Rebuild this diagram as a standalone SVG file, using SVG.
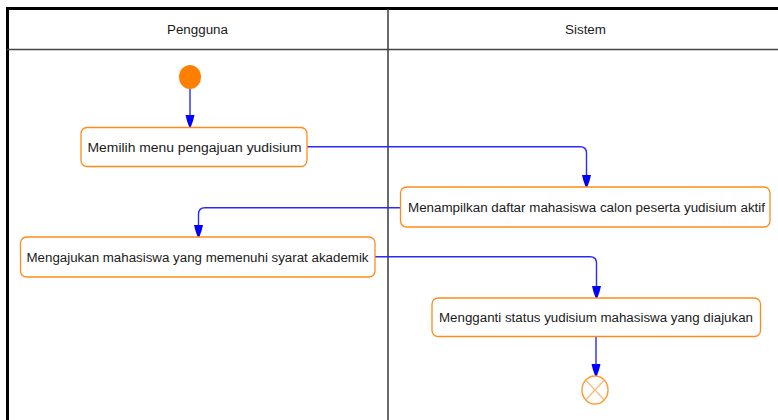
<svg xmlns="http://www.w3.org/2000/svg" width="778" height="420" viewBox="0 0 778 420">
<style>
.lbl{font-family:"Liberation Sans",Arial,sans-serif;font-size:12px;fill:#1a1a1a;text-anchor:middle}
.act{fill:#fff;stroke:#ff8c1a;stroke-width:1.3}
.flow{fill:none;stroke:#2a2aff;stroke-width:1.4}
</style>
<defs>
<marker id="ah" markerUnits="userSpaceOnUse" markerWidth="14" markerHeight="12" viewBox="-13 -6 14 12" refX="0" refY="0" orient="auto">
<path d="M-12,-4.5 L-12,4.5 L-6,3 L0,0.8 L0,-0.8 L-6,-3 Z" fill="#0000ff"/>
</marker>
</defs>
<rect width="778" height="420" fill="#fff"/>
<g id="swimlanes">
<line x1="7.5" y1="8.5" x2="778" y2="8.5" stroke="#000" stroke-width="3"/>
<line x1="7.5" y1="7" x2="7.5" y2="420" stroke="#000" stroke-width="3"/>
<line x1="7" y1="49.5" x2="778" y2="49.5" stroke="#444" stroke-width="1.6"/>
<line x1="388" y1="9" x2="388" y2="420" stroke="#444" stroke-width="1.6"/>
<text class="lbl" x="197.5" y="33.5" textLength="61" lengthAdjust="spacingAndGlyphs">Pengguna</text>
<text class="lbl" x="585.5" y="33.5" textLength="41" lengthAdjust="spacingAndGlyphs">Sistem</text>
</g>
<g id="connectors">
<path class="flow" d="M190,89 V127" marker-end="url(#ah)"/>
<path class="flow" d="M307,146.7 H580 Q586.5,146.7 586.5,153 V187" marker-end="url(#ah)"/>
<path class="flow" d="M400,207.7 H205 Q198.5,207.7 198.5,214 V237" marker-end="url(#ah)"/>
<path class="flow" d="M375,256.7 H590 Q596.5,256.7 596.5,263 V298" marker-end="url(#ah)"/>
<path class="flow" d="M596,337 V376" marker-end="url(#ah)"/>
</g>
<g id="start">
<ellipse cx="190" cy="77" rx="11" ry="12" fill="#ff8000"/>
</g>
<g id="a1">
<rect class="act" x="81" y="127.5" width="226" height="39" rx="6"/>
<text class="lbl" x="194.5" y="151.5" textLength="214" lengthAdjust="spacingAndGlyphs">Memilih menu pengajuan yudisium</text>
</g>
<g id="a2">
<rect class="act" x="400.5" y="187" width="369.5" height="40" rx="6"/>
<text class="lbl" x="586.5" y="212" textLength="357" lengthAdjust="spacingAndGlyphs">Menampilkan daftar mahasiswa calon peserta yudisium aktif</text>
</g>
<g id="a3">
<rect class="act" x="20.5" y="237" width="354.5" height="40" rx="6"/>
<text class="lbl" x="197.5" y="261.5" textLength="342" lengthAdjust="spacingAndGlyphs">Mengajukan mahasiswa yang memenuhi syarat akademik</text>
</g>
<g id="a4">
<rect class="act" x="432" y="298" width="328.5" height="38.5" rx="6"/>
<text class="lbl" x="596" y="322" textLength="314" lengthAdjust="spacingAndGlyphs">Mengganti status yudisium mahasiswa yang diajukan</text>
</g>
<g id="end">
<ellipse cx="595" cy="390" rx="13" ry="14" fill="#fff" stroke="#ff9933" stroke-width="1.4"/>
<path d="M585.8,380.1 L604.2,399.9 M604.2,380.1 L585.8,399.9" stroke="#ffb366" stroke-width="1.2"/>
</g>
</svg>
